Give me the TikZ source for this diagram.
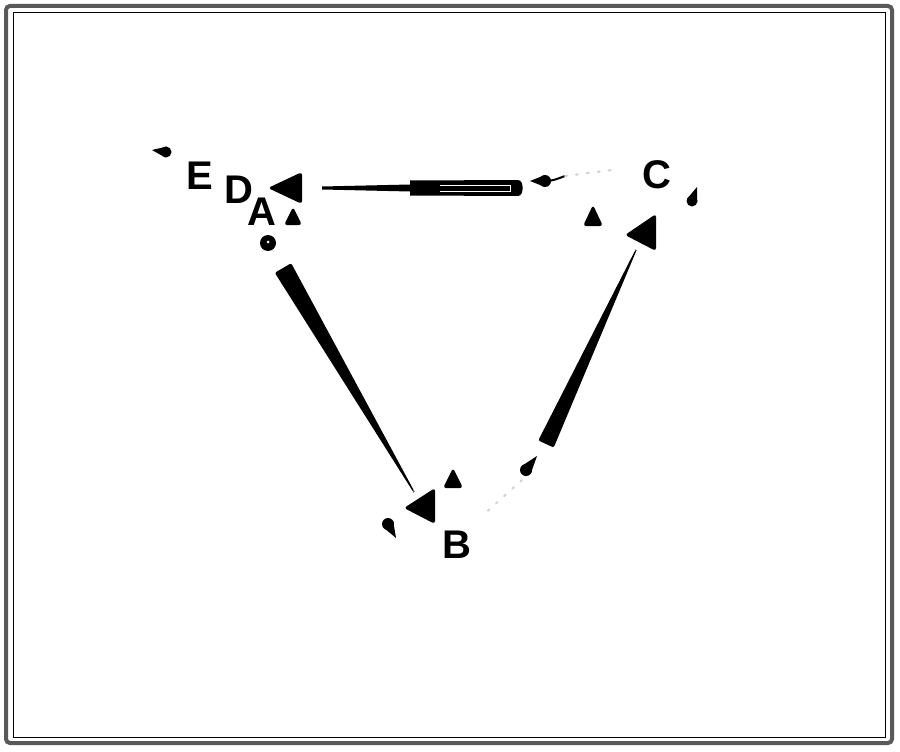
\documentclass[tikz,border=0pt]{standalone}
\usepackage{fontspec}
\setmainfont{Liberation Sans}
\usetikzlibrary{calc}
\newcommand{\mywedge}[4]{%
  \fill[black, rounded corners=2pt] ($(#1)!#3!90:(#2)$) -- ($(#2)!#4!-90:(#1)$) -- ($(#2)!#4!90:(#1)$) -- ($(#1)!#3!-90:(#2)$) -- cycle;}
\newcommand{\mydrop}[3]{%
  \fill[black] (#1) circle (#3);
  \fill[black] (#2) -- ($(#1)!#3!90:(#2)$) -- ($(#1)!#3!-90:(#2)$) -- cycle;}
\tikzset{
  lbl/.style={inner sep=0pt, font=\fontsize{40}{48}\selectfont\bfseries},
  head/.style={fill=black, rounded corners=3pt},
  tri/.style={fill=black, rounded corners=3pt},
  faint/.style={gray!35, line width=2pt, dash pattern=on 2pt off 9pt, line cap=round}
}
\begin{document}
\begin{tikzpicture}[x=1pt,y=-1pt]
\useasboundingbox (0,0) rectangle (900,752);
\fill[white] (0,0) rectangle (900,752);
% frame
\draw[gray!70!black, line width=4pt, rounded corners=4pt] (6,6) rectangle (892,743);
\draw[black, line width=1pt] (13,13) rectangle (885,737);
% labels
\node[lbl] (E) at (200,176) {E};
\node[lbl] (D) at (239,190) {D};
\node[lbl] (A) at (262,212) {A};
\node[lbl] (C) at (657,175) {C};
\node[lbl] (B) at (457,545) {B};
% connector end points
\coordinate (ab1) at (283,268);
\coordinate (ab2) at (414,492);
\coordinate (cb1) at (546,444);
\coordinate (cb2) at (636,250);
% wedges
\mywedge{ab1}{ab2}{9.5pt}{0.6pt}
\mywedge{cb1}{cb2}{8.5pt}{0.6pt}
\fill[black] (322,186.5) -- (410,184.5) -- (410,180.5) -- (518,180) to[out=0,in=0] (518,196) -- (410,195.5) -- (410,191.5) -- (322,189.5) -- cycle;
\draw[white, line width=0.6pt] (440,185) -- (510,185) -- (510,191) -- (440,191);
% arrowheads
\fill[head] (268,188) -- (302,172) -- (302,204) -- cycle;
\fill[head] (404,508) -- (435,488) -- (435,524) -- cycle;
\fill[head] (625,235) -- (656,214) -- (656,251) -- cycle;
% small triangles
\fill[tri] (293,207) -- (302,225) -- (284,225) -- cycle;
\fill[tri] (593,205) -- (603,226) -- (583,226) -- cycle;
\fill[tri] (453,468) -- (463,488) -- (443,488) -- cycle;
% circle
\fill[black] (268,243) circle (8);
\fill[white] (268,242) circle (1.5);
% drops
\coordinate (d1c) at (166,152); \coordinate (d1t) at (152,150);
\coordinate (d2c) at (545,181); \coordinate (d2t) at (530,181);
\coordinate (d3c) at (692,201); \coordinate (d3t) at (697,187);
\coordinate (d4c) at (388,524); \coordinate (d4t) at (396,538);
\coordinate (d5c) at (526,470); \coordinate (d5t) at (537,456);
\mydrop{d1c}{d1t}{5.5pt}
\mydrop{d2c}{d2t}{6pt}
\mydrop{d3c}{d3t}{5.5pt}
\mydrop{d4c}{d4t}{6pt}
\mydrop{d5c}{d5t}{6pt}
\draw[black, line width=2pt] (d2c) to[out=0,in=200] (565,176);
% faint traces
\draw[faint] (565,176) -- (612,170);
\draw[faint] (522,480) -- (482,516);
\end{tikzpicture}
\end{document}
